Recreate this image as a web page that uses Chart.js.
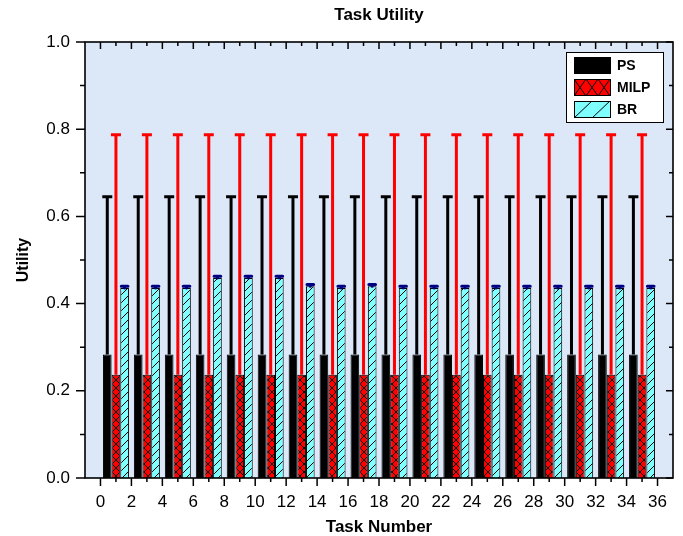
<!DOCTYPE html>
<html><head><meta charset="utf-8">
<script src="https://cdn.jsdelivr.net/npm/chart.js@4.4.1/dist/chart.umd.min.js"></script>
<style>html,body{margin:0;padding:0;background:#fff}#wrap{width:683px;height:536px}</style>
</head><body><div id="wrap"><canvas id="c" width="683" height="536"></canvas></div>
<script>
// ---------- data ----------
const taskPositions = [1,3,5,7,9,11,13,15,17,19,21,23,25,27,29,31,33,35];
const seriesLabels = ['PS','MILP','BR'];
const psValues   = [0.283,0.283,0.283,0.283,0.283,0.283,0.283,0.283,0.283,0.283,0.283,0.283,0.283,0.283,0.283,0.283,0.283,0.283];
const psErrors   = [0.362,0.362,0.362,0.362,0.362,0.362,0.362,0.362,0.362,0.362,0.362,0.362,0.362,0.362,0.362,0.362,0.362,0.362];
const milpValues = [0.237,0.237,0.237,0.237,0.237,0.237,0.237,0.237,0.237,0.237,0.237,0.237,0.237,0.237,0.237,0.237,0.237,0.237];
const milpErrors = [0.550,0.550,0.550,0.550,0.550,0.550,0.550,0.550,0.550,0.550,0.550,0.550,0.550,0.550,0.550,0.550,0.550,0.550];
const brValues   = [0.436,0.436,0.436,0.459,0.459,0.459,0.440,0.436,0.440,0.436,0.436,0.436,0.436,0.436,0.436,0.436,0.436,0.436];
const brErrors   = [0.004,0.004,0.004,0.004,0.004,0.004,0.004,0.004,0.004,0.004,0.004,0.004,0.004,0.004,0.004,0.004,0.004,0.004];
const xTickValues = [0,2,4,6,8,10,12,14,16,18,20,22,24,26,28,30,32,34,36];
const xTickLabels = ['0','2','4','6','8','10','12','14','16','18','20','22','24','26','28','30','32','34','36'];
const xMinorTicks = [1,3,5,7,9,11,13,15,17,19,21,23,25,27,29,31,33,35];
const yTickValues = [0,0.2,0.4,0.6,0.8,1.0];
const yTickLabels = ['0.0','0.2','0.4','0.6','0.8','1.0'];
const yMinorTicks = [0.1,0.3,0.5,0.7,0.9];

// ---------- patterns ----------
function makePattern(w, h, fill, draw) {
  const c = document.createElement('canvas');
  c.width = w; c.height = h;
  const g = c.getContext('2d');
  g.fillStyle = fill; g.fillRect(0, 0, w, h);
  g.strokeStyle = '#000'; g.lineWidth = 1;
  draw(g, w, h);
  return c;
}
const crossTile = (g, w, h) => { g.beginPath(); g.moveTo(0,0); g.lineTo(w,h); g.moveTo(w,0); g.lineTo(0,h); g.stroke(); };
const slashTile = (g, w, h) => { g.beginPath(); g.moveTo(-1,h+1); g.lineTo(w+1,-1); g.stroke(); };
const pctx = document.createElement('canvas').getContext('2d');
const milpFill = pctx.createPattern(makePattern(8, 8, '#ff0000', crossTile), 'repeat');
const brFill = pctx.createPattern(makePattern(8, 8, '#80ffff', slashTile), 'repeat');
const milpLegendTile = makePattern(12, 17, '#ff0000', crossTile);
const brLegendTile = makePattern(18, 17, '#80ffff', slashTile);

const FONT = "'Liberation Sans', Arial, Helvetica, sans-serif";

// ---------- plugins ----------
const bgPlugin = {
  id: 'bg',
  beforeDraw(chart) {
    const {ctx, chartArea: a} = chart;
    ctx.save();
    ctx.fillStyle = '#fff'; ctx.fillRect(0, 0, chart.width, chart.height);
    ctx.fillStyle = '#dce8f8'; ctx.fillRect(a.left, a.top, a.right - a.left, a.bottom - a.top);
    ctx.restore();
  }
};

const errorPlugin = {
  id: 'errbars',
  afterDatasetsDraw(chart) {
    const ctx = chart.ctx, ys = chart.scales.y;
    chart.data.datasets.forEach((ds, d) => {
      const meta = chart.getDatasetMeta(d);
      meta.data.forEach((el, i) => {
        const v = ds.data[i].y, e = ds.errors[i];
        const yTop = ys.getPixelForValue(v + e);
        ctx.save();
        ctx.strokeStyle = ds.errColor;
        ctx.lineWidth = 3;
        ctx.lineCap = ds.roundCap ? 'round' : 'butt';
        ctx.beginPath();
        ctx.moveTo(el.x, el.y); ctx.lineTo(el.x, yTop);
        const hw = ds.roundCap ? el.width / 2 - 1 : 5;
        ctx.moveTo(el.x - hw, yTop); ctx.lineTo(el.x + hw, yTop);
        ctx.stroke();
        ctx.restore();
      });
    });
  }
};

const axesPlugin = {
  id: 'axesbox',
  afterDatasetsDraw(chart) {
    const {ctx, chartArea: a, scales: {x, y}} = chart;
    ctx.save();
    ctx.strokeStyle = '#000';
    ctx.lineWidth = 1.6;
    ctx.strokeRect(a.left, a.top, a.right - a.left, a.bottom - a.top);
    ctx.lineWidth = 1.5;
    ctx.beginPath();
    const vt = (vals, len) => vals.forEach(v => {
      const px = x.getPixelForValue(v);
      ctx.moveTo(px, a.bottom); ctx.lineTo(px, a.bottom + len);
      ctx.moveTo(px, a.top); ctx.lineTo(px, a.top + (len > 5 ? 7 : 4));
    });
    vt(xTickValues, 8); vt(xMinorTicks, 4);
    const ht = (vals, len) => vals.forEach(v => {
      const py = y.getPixelForValue(v);
      ctx.moveTo(a.left, py); ctx.lineTo(a.left - len, py);
      ctx.moveTo(a.right, py); ctx.lineTo(a.right - (len > 5 ? 7 : 4), py);
    });
    ht(yTickValues, 9); ht(yMinorTicks, 5);
    ctx.stroke();
    ctx.restore();
  }
};

const legendPlugin = {
  id: 'boxlegend',
  afterDraw(chart) {
    const ctx = chart.ctx;
    const bx = 566, by = 52, bw = 97, bh = 70;
    ctx.save();
    ctx.fillStyle = '#fff'; ctx.fillRect(bx, by, bw, bh);
    ctx.strokeStyle = '#000'; ctx.lineWidth = 1;
    ctx.strokeRect(bx + 0.5, by + 0.5, bw, bh);
    const tiles = [null, milpLegendTile, brLegendTile];
    chart.data.datasets.forEach((ds, i) => {
      const sx = 574, sy = 57 + i * 22, sw = 37, sh = 17;
      if (tiles[i]) {
        const p = ctx.createPattern(tiles[i], 'repeat');
        p.setTransform(new DOMMatrix().translateSelf(sx, sy));
        ctx.fillStyle = p;
      } else ctx.fillStyle = ds.backgroundColor;
      ctx.fillRect(sx, sy, sw, sh);
      ctx.strokeStyle = '#000'; ctx.lineWidth = 1;
      ctx.strokeRect(sx + 0.5, sy + 0.5, sw - 1, sh - 1);
      ctx.fillStyle = '#000';
      ctx.font = 'bold 14px ' + FONT;
      ctx.textBaseline = 'middle';
      ctx.textAlign = 'left';
      ctx.fillText(ds.label, 617, sy + sh / 2 + 0.5);
    });
    ctx.restore();
  }
};

// ---------- chart ----------
const pts = vals => taskPositions.map((t, i) => ({x: t, y: vals[i]}));
new Chart(document.getElementById('c'), {
  type: 'bar',
  data: {
    datasets: [
      {label: seriesLabels[0], data: pts(psValues), errors: psErrors, errColor: '#000',
       backgroundColor: '#000', borderColor: '#000', borderWidth: 1},
      {label: seriesLabels[1], data: pts(milpValues), errors: milpErrors, errColor: '#ff0000',
       backgroundColor: milpFill, borderColor: '#000', borderWidth: 1},
      {label: seriesLabels[2], data: pts(brValues), errors: brErrors, errColor: '#000080', roundCap: true,
       backgroundColor: brFill, borderColor: '#000', borderWidth: 1}
    ]
  },
  options: {
    responsive: false,
    animation: false,
    events: [],
    categoryPercentage: 0.84,
    barPercentage: 1.0,
    layout: {padding: {left: 0, right: 10, top: 0, bottom: 0}},
    scales: {
      x: {
        type: 'linear', min: -1, max: 37, offset: false,
        grid: {display: false}, border: {display: false},
        afterBuildTicks: s => { s.ticks = xTickValues.map(v => ({value: v})); },
        ticks: {autoSkip: false, maxRotation: 0, padding: 6, color: '#000',
                font: {family: FONT, size: 17},
                callback: v => xTickLabels[xTickValues.indexOf(v)]},
        title: {display: true, text: 'Task Number', color: '#000',
                font: {family: FONT, size: 17, weight: 'bold'}, padding: {top: 0, bottom: -2}},
        afterFit: s => { s.height = 58; }
      },
      y: {
        type: 'linear', min: 0, max: 1,
        grid: {display: false}, border: {display: false},
        afterBuildTicks: s => { s.ticks = yTickValues.map(v => ({value: v})); },
        ticks: {padding: 7, color: '#000', font: {family: FONT, size: 17},
                callback: v => yTickLabels[yTickValues.indexOf(v)]},
        title: {display: true, text: 'Utility', color: '#000',
                font: {family: FONT, size: 16, weight: 'bold'}, padding: {top: 14, bottom: 0}},
        afterFit: s => { s.width = 85; }
      }
    },
    plugins: {
      legend: {display: false},
      tooltip: {enabled: false},
      title: {display: true, text: 'Task Utility', fullSize: false, color: '#000',
              font: {family: FONT, size: 17, weight: 'bold'}, padding: {top: 5, bottom: 16.6}}
    }
  },
  plugins: [bgPlugin, errorPlugin, axesPlugin, legendPlugin]
});
</script>
</body></html>
